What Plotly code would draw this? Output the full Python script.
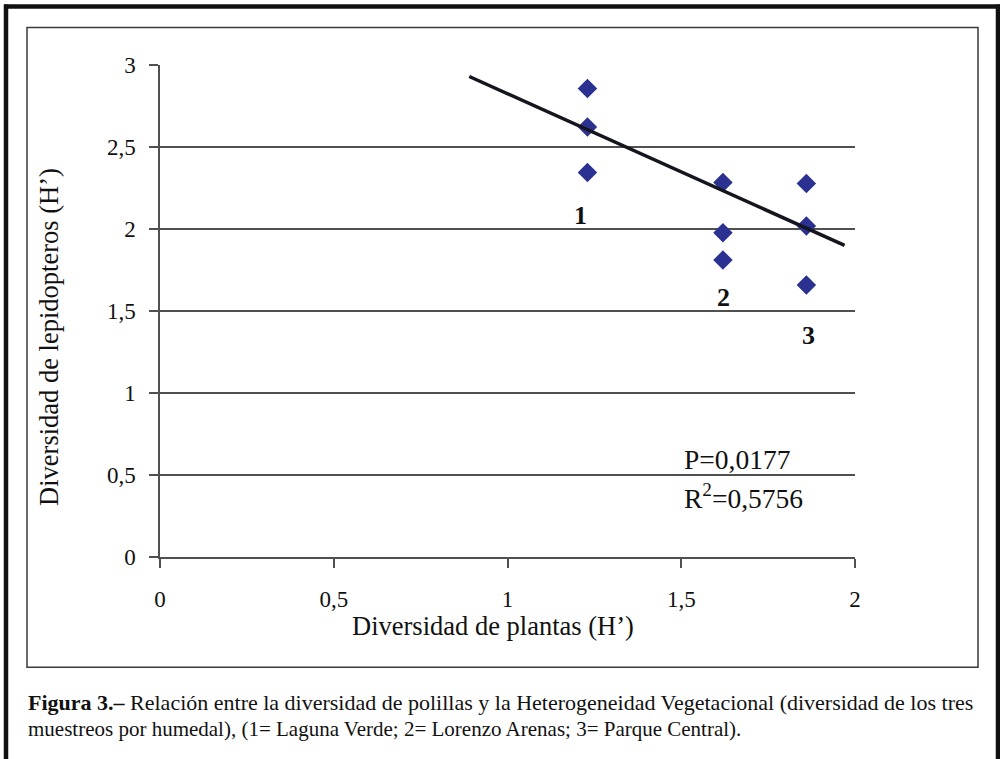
import plotly.graph_objects as go

# ---- data ----
plant_div = [1.23, 1.23, 1.23, 1.62, 1.62, 1.62, 1.86, 1.86, 1.86]
lep_div = [2.856, 2.622, 2.344, 2.284, 1.977, 1.811, 2.278, 2.019, 1.659]
trend_x = [0.89, 1.97]
trend_y = [2.93, 1.90]
x_ticks = [0, 0.5, 1, 1.5, 2]
x_tick_text = ["0", "0,5", "1", "1,5", "2"]
y_ticks = [0, 0.5, 1, 1.5, 2, 2.5, 3]
y_tick_text = ["0", "0,5", "1", "1,5", "2", "2,5", "3"]
site_labels = ["1", "2", "3"]
stats_text = ["P=0,0177", "R<sup>2</sup>=0,5756"]

W, H = 1000, 759
L, R, T, B = 160, 855, 64.5, 557.5
FONT = "Liberation Serif"
GRID = "#505050"


def px(xp):
    return (xp - L) / (R - L)


def py(yp):
    return (B - yp) / (B - T)


fig = go.Figure()
fig.add_trace(go.Scatter(
    x=plant_div, y=lep_div, mode="markers",
    marker=dict(symbol="diamond", size=15, color="#2b3190", line=dict(width=0)),
    cliponaxis=False, showlegend=False, hoverinfo="skip"))
fig.add_trace(go.Scatter(
    x=trend_x, y=trend_y, mode="lines",
    line=dict(color="#15151f", width=3.5),
    cliponaxis=False, showlegend=False, hoverinfo="skip"))

annotations = []
# site labels
for lab, (ax, ay) in zip(site_labels, [(1.209, 2.084), (1.621, 1.585), (1.866, 1.348)]):
    annotations.append(dict(x=ax, y=ay, xref="x", yref="y", text="<b>%s</b>" % lab,
                            showarrow=False, font=dict(family=FONT, size=26, color="#111"),
                            xanchor="center", yanchor="middle"))
# stats
for txt, ay in zip(stats_text, [0.593, 0.368]):
    annotations.append(dict(x=1.503, y=ay, xref="x", yref="y", text=txt, showarrow=False,
                            font=dict(family=FONT, size=27.5, color="#111"),
                            xanchor="left", yanchor="middle"))
# axis titles
annotations.append(dict(x=px(493), y=py(627), xref="paper", yref="paper",
                        text="Diversidad de plantas (H’)", showarrow=False,
                        font=dict(family=FONT, size=26.5, color="#111"),
                        xanchor="center", yanchor="middle"))
annotations.append(dict(x=px(49), y=py(337), xref="paper", yref="paper",
                        text="Diversidad de lepidopteros (H’)", showarrow=False, textangle=-90,
                        font=dict(family=FONT, size=26.5, color="#111"),
                        xanchor="center", yanchor="middle"))
# caption
annotations.append(dict(x=px(26), y=py(703), xref="paper", yref="paper",
                        text="<b>Figura 3.–</b> Relación entre la diversidad de polillas y la Heterogeneidad Vegetacional (diversidad de los tres",
                        showarrow=False, font=dict(family=FONT, size=22, color="#111"),
                        xanchor="left", yanchor="middle"))
annotations.append(dict(x=px(26), y=py(730), xref="paper", yref="paper",
                        text="muestreos por humedal), (1= Laguna Verde; 2= Lorenzo Arenas; 3= Parque Central).",
                        showarrow=False, font=dict(family=FONT, size=21, color="#111"),
                        xanchor="left", yanchor="middle"))

shapes = [
    # inner thin frame
    dict(type="rect", xref="paper", yref="paper", x0=px(27), x1=px(978), y0=py(27), y1=py(668),
         line=dict(color="#3a3a3a", width=1.5), layer="below"),
    # outer thick frame (left, top, right)
    dict(type="line", xref="paper", yref="paper", x0=px(6), x1=px(6), y0=py(4), y1=py(770),
         line=dict(color="#111", width=4.5)),
    dict(type="line", xref="paper", yref="paper", x0=px(4), x1=px(1000), y0=py(6), y1=py(6),
         line=dict(color="#111", width=4.5)),
    dict(type="line", xref="paper", yref="paper", x0=px(998), x1=px(998), y0=py(4), y1=py(770),
         line=dict(color="#111", width=4.5)),
]

fig.update_layout(
    width=W, height=H,
    margin=dict(l=L, r=W - R, t=T, b=H - B, pad=0),
    paper_bgcolor="white", plot_bgcolor="white",
    font=dict(family=FONT, color="#111"),
    annotations=annotations, shapes=shapes,
    showlegend=False,
)
fig.update_xaxes(range=[0, 2], tickvals=x_ticks, ticktext=x_tick_text,
                 showgrid=False, zeroline=False, showline=True, linecolor=GRID, linewidth=1.5,
                 ticks="outside", ticklen=9, tickwidth=1.5, tickcolor=GRID,
                 tickfont=dict(family=FONT, size=23, color="#111"), ticklabelstandoff=12,
                 fixedrange=True)
fig.update_yaxes(range=[0, 3], tickvals=y_ticks, ticktext=y_tick_text,
                 showgrid=True, gridcolor=GRID, gridwidth=1.5, zeroline=False,
                 showline=True, linecolor=GRID, linewidth=1.5,
                 ticks="outside", ticklen=9, tickwidth=1.5, tickcolor=GRID,
                 tickfont=dict(family=FONT, size=23, color="#111"), ticklabelstandoff=9,
                 fixedrange=True)

fig.write_html("out.html", config={"displayModeBar": False},
               post_script="document.body.style.margin='0';")
